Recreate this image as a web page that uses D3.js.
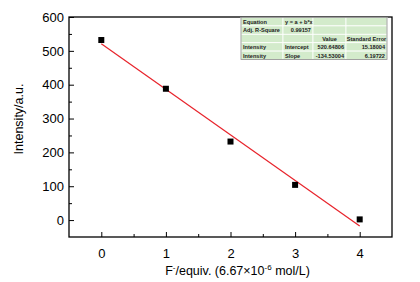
<!DOCTYPE html>
<html>
<head>
<meta charset="utf-8">
<script src="https://cdn.jsdelivr.net/npm/d3@7"></script>
<style>
  body { margin: 0; background: #fff; }
  svg { display: block; font-family: "Liberation Sans", Arial, sans-serif; }
</style>
</head>
<body>
<svg id="chart" width="420" height="282"></svg>
<script>
const equivs = [0, 1, 2, 3, 4];
const intensity = [532, 388, 232, 104, 2];
const fitIntercept = 520.64806;
const fitSlope = -134.53004;
const xTicks = [0, 1, 2, 3, 4];
const yTicks = [0, 100, 200, 300, 400, 500, 600];
const tableRows = [
  ["Equation", "y = a + b*x", "", ""],
  ["Adj. R-Square", "0.99157", "", ""],
  ["", "", "Value", "Standard Error"],
  ["Intensity", "Intercept", "520.64806", "15.18004"],
  ["Intensity", "Slope", "-134.53004", "6.19722"]
];

const margin = { top: 17, right: 28, bottom: 45, left: 69 };
const width = 420 - margin.left - margin.right;
const height = 282 - margin.top - margin.bottom;

const svg = d3.select("#chart")
  .append("g")
  .attr("transform", `translate(${margin.left},${margin.top})`);

const x = d3.scaleLinear().domain([-0.5, 4.5]).range([0, width]);
const y = d3.scaleLinear().domain([-50, 600]).range([height, 0]);

// minor ticks (inward)
const xMinor = d3.range(-0.5, 4.51, 0.5).filter(v => !xTicks.includes(v) && v > -0.5 && v < 4.5);
const yMinor = d3.range(-50, 601, 50).filter(v => !yTicks.includes(v) && v > -50 && v < 600);

svg.append("g")
  .attr("transform", `translate(0,${height})`)
  .call(d3.axisBottom(x).tickValues(xMinor).tickSize(-3).tickFormat(""))
  .call(g => g.select(".domain").remove());
svg.append("g")
  .call(d3.axisLeft(y).tickValues(yMinor).tickSize(-3).tickFormat(""))
  .call(g => g.select(".domain").remove());

const xAxis = svg.append("g")
  .attr("transform", `translate(0,${height})`)
  .call(d3.axisBottom(x).tickValues(xTicks).tickSize(-5).tickPadding(9).tickFormat(d3.format("d")));
xAxis.select(".domain").remove();
xAxis.selectAll("text").attr("font-size", 13).attr("fill", "#000").attr("dy", "0.9em");

const yAxis = svg.append("g")
  .call(d3.axisLeft(y).tickValues(yTicks).tickSize(-5).tickPadding(5));
yAxis.select(".domain").remove();
yAxis.selectAll("text").attr("font-size", 13).attr("fill", "#000");

svg.selectAll(".tick line").attr("stroke", "#000").attr("stroke-width", 1);

// frame
svg.append("rect")
  .attr("width", width)
  .attr("height", height)
  .attr("fill", "none")
  .attr("stroke", "#000")
  .attr("stroke-width", 1.3);

// fit line
const fitLine = d3.line()
  .x(d => x(d))
  .y(d => y(fitIntercept + fitSlope * d));
svg.append("path")
  .datum([0, 4])
  .attr("fill", "none")
  .attr("stroke", "#e8232b")
  .attr("stroke-width", 1.2)
  .attr("d", fitLine);

// points
svg.selectAll("rect.pt")
  .data(equivs)
  .enter()
  .append("rect")
  .attr("class", "pt")
  .attr("x", (d) => x(d) - 3)
  .attr("y", (d, i) => y(intensity[i]) - 3)
  .attr("width", 6)
  .attr("height", 6)
  .attr("fill", "#000");

// axis titles
svg.append("text")
  .attr("transform", `translate(-46,${height / 2 - 8}) rotate(-90)`)
  .attr("text-anchor", "middle")
  .attr("font-size", 12.5)
  .text("Intensity/a.u.");

const xTitle = svg.append("text")
  .attr("x", width / 2 + 7)
  .attr("y", height + 38)
  .attr("text-anchor", "middle")
  .attr("font-size", 12.5);
xTitle.append("tspan").text("F");
xTitle.append("tspan").attr("dy", -5).attr("font-size", 8).text("-");
xTitle.append("tspan").attr("dy", 5).text("/equiv. (6.67\u00d710");
xTitle.append("tspan").attr("dy", -5).attr("font-size", 8).text("-6");
xTitle.append("tspan").attr("dy", 5).text(" mol/L)");

// fit table
const colX = [241, 283, 313, 346, 387].map(v => v - margin.left);
const rowH = 8.4;
const table = svg.append("g").attr("transform", "translate(0,0.5)");
tableRows.forEach((row, r) => {
  row.forEach((cell, c) => {
    table.append("rect")
      .attr("x", colX[c])
      .attr("y", r * rowH)
      .attr("width", colX[c + 1] - colX[c])
      .attr("height", rowH)
      .attr("fill", "#d3ebcb")
      .attr("stroke", "#fff")
      .attr("stroke-width", 0.8);
    if (cell) {
      let anchor = "start";
      let tx = colX[c] + 2;
      if (r === 2) {
        anchor = "middle";
        tx = (colX[c] + colX[c + 1]) / 2;
      } else if (c >= 2 || (r === 1 && c === 1)) {
        anchor = "end";
        tx = colX[c + 1] - 2;
      }
      table.append("text")
        .attr("x", tx)
        .attr("y", r * rowH + rowH - 2)
        .attr("text-anchor", anchor)
        .attr("font-size", 5.6)
        .attr("font-weight", "bold")
        .attr("fill", "#222")
        .text(cell);
    }
  });
});
table.append("rect")
  .attr("x", colX[0])
  .attr("y", 0)
  .attr("width", colX[4] - colX[0])
  .attr("height", rowH * tableRows.length)
  .attr("fill", "none")
  .attr("stroke", "#8a8a8a")
  .attr("stroke-width", 0.8);
</script>
</body>
</html>
